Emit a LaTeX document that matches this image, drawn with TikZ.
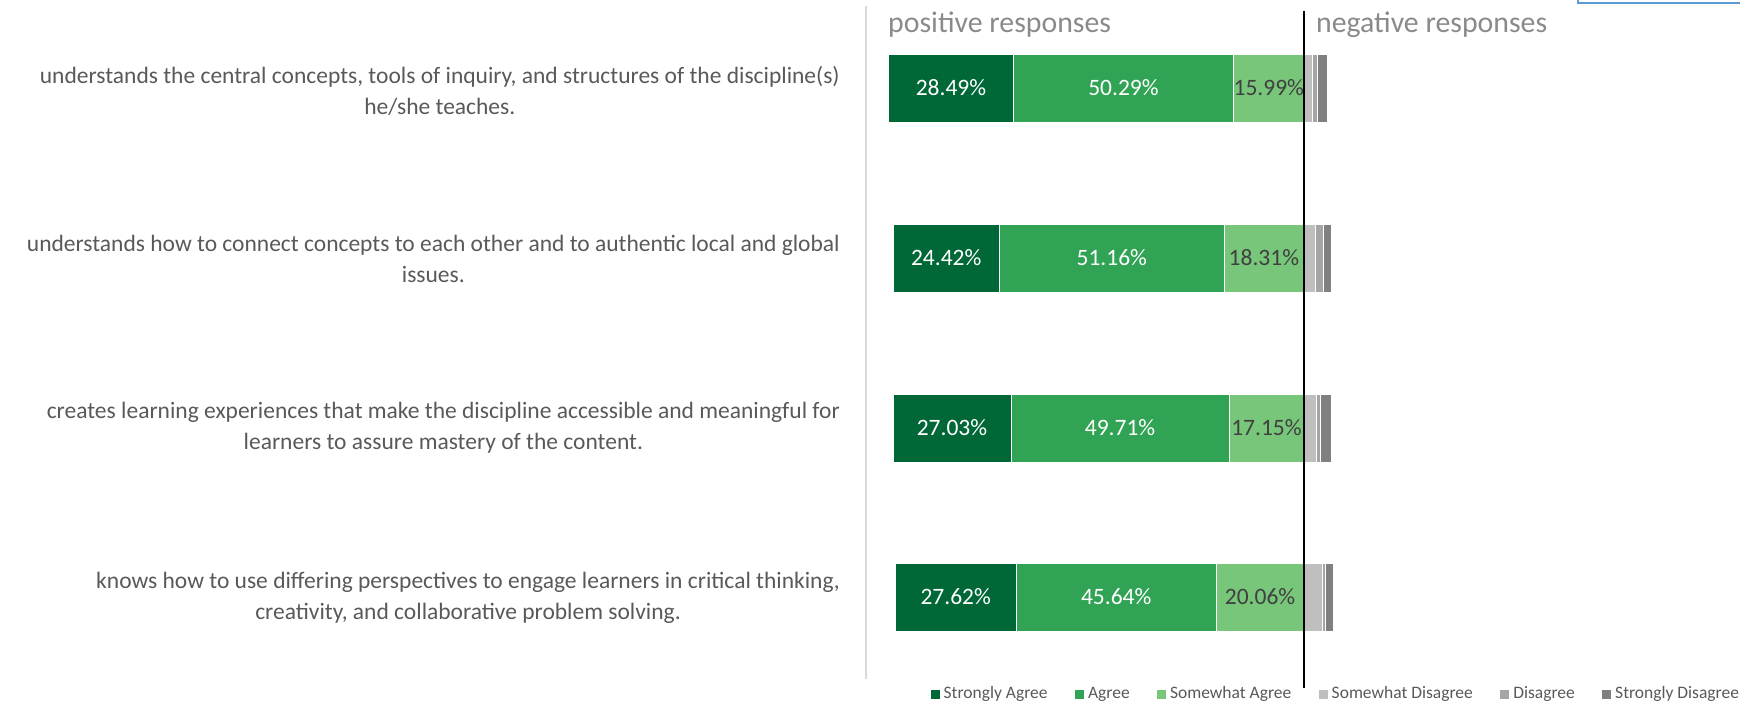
\documentclass[tikz,border=0pt]{standalone}
\usepackage{fontspec}
\setmainfont{Carlito}
\usepackage{xcolor}
\definecolor{colorStrongAgree}{HTML}{006837}
\definecolor{colorAgree}{HTML}{31A354}
\definecolor{colorSomeAgree}{HTML}{78C679}
\definecolor{colorSomeDisagree}{HTML}{BFBFBF}
\definecolor{colorDisagree}{HTML}{A5A5A5}
\definecolor{colorStrongDisagree}{HTML}{808080}
\colorlet{colorLabel}{black!65}
\colorlet{colorHeader}{black!46}
\colorlet{colorValue}{black!75}
\definecolor{colorFrame}{HTML}{5B9BD5}
\usepackage{tikz}
\usetikzlibrary{positioning}

\begin{document}
\begin{tikzpicture}[x=1pt, y=-1pt, node distance=0pt,
  seg/.style={draw=white, line width=0.5pt, minimum height=68pt, inner sep=0pt, outer sep=0pt, text=white, font=\fontsize{23.5}{28}\selectfont},
  pct/.style={minimum width=#1*4.38pt},
  item/.style={align=center, text=colorLabel, inner sep=0pt, font=\fontsize{23.5}{31}\selectfont},
  header/.style={text=colorHeader, inner sep=0pt, font=\fontsize{29.8}{34}\selectfont},
  legsq/.style={minimum size=9pt, inner sep=0pt, outer sep=0pt},
  legtext/.style={text=colorLabel, inner sep=0pt, font=\fontsize{17.5}{20}\selectfont}]
\useasboundingbox (0,0) rectangle (1740,703);
\draw[colorFrame, line width=2pt] (1578,-2) -- (1578,3.5) -- (1745,3.5);
% axis lines
\coordinate (axtop) at (866,6);
\coordinate (axbot) at (866,679);
\coordinate (zerotop) at (1304,11);
\coordinate (zerobot) at (1304,688);
\draw[black!15, line width=2pt] (axtop) -- (axbot);
\node[header, anchor=west] (pos) at (888,25) {positive responses};
\node[header, anchor=west] (neg) at (1316,25) {negative responses};
% item 1
\node[item, anchor=east] (q1) at (840,91) {understands the central concepts, tools of inquiry, and structures of the discipline(s)\\he/she teaches.};
\node[seg, pct=15.99, fill=colorSomeAgree, text=colorValue, anchor=east] (b1c) at (1304,88) {15.99\%};
\node[seg, pct=50.29, fill=colorAgree, left=of b1c] (b1b) {50.29\%};
\node[seg, pct=28.49, fill=colorStrongAgree, left=of b1b] (b1a) {28.49\%};
\node[seg, pct=1.90, fill=colorSomeDisagree, right=of b1c] (b1d) {};
\node[seg, pct=1.10, fill=colorDisagree, right=of b1d] (b1e) {};
\node[seg, pct=2.23, fill=colorStrongDisagree, right=of b1e] (b1f) {};
% item 2
\node[item, anchor=east] (q2) at (840,259) {understands how to connect concepts to each other and to authentic local and global\\issues.};
\node[seg, pct=18.31, fill=colorSomeAgree, text=colorValue, anchor=east] (b2c) at (1304,258) {18.31\%};
\node[seg, pct=51.16, fill=colorAgree, left=of b2c] (b2b) {51.16\%};
\node[seg, pct=24.42, fill=colorStrongAgree, left=of b2b] (b2a) {24.42\%};
\node[seg, pct=2.60, fill=colorSomeDisagree, right=of b2c] (b2d) {};
\node[seg, pct=1.90, fill=colorDisagree, right=of b2d] (b2e) {};
\node[seg, pct=1.61, fill=colorStrongDisagree, right=of b2e] (b2f) {};
% item 3
\node[item, anchor=east] (q3) at (840,428) {creates learning experiences that make the discipline accessible and meaningful for\\learners to assure mastery of the content.};
\node[seg, pct=17.15, fill=colorSomeAgree, text=colorValue, anchor=east] (b3c) at (1304,428) {17.15\%};
\node[seg, pct=49.71, fill=colorAgree, left=of b3c] (b3b) {49.71\%};
\node[seg, pct=27.03, fill=colorStrongAgree, left=of b3b] (b3a) {27.03\%};
\node[seg, pct=2.74, fill=colorSomeDisagree, right=of b3c] (b3d) {};
\node[seg, pct=0.87, fill=colorDisagree, right=of b3d] (b3e) {};
\node[seg, pct=2.50, fill=colorStrongDisagree, right=of b3e] (b3f) {};
% item 4
\node[item, anchor=east] (q4) at (840,598) {knows how to use differing perspectives to engage learners in critical thinking,\\creativity, and collaborative problem solving.};
\node[seg, pct=20.06, fill=colorSomeAgree, text=colorValue, anchor=east] (b4c) at (1304,597) {20.06\%};
\node[seg, pct=45.64, fill=colorAgree, left=of b4c] (b4b) {45.64\%};
\node[seg, pct=27.62, fill=colorStrongAgree, left=of b4b] (b4a) {27.62\%};
\node[seg, pct=4.07, fill=colorSomeDisagree, right=of b4c] (b4d) {};
\node[seg, pct=0.87, fill=colorDisagree, right=of b4d] (b4e) {};
\node[seg, pct=1.74, fill=colorStrongDisagree, right=of b4e] (b4f) {};
\draw[black, line width=1.6pt] (zerotop) -- (zerobot);
% legend
\node[legsq, fill=colorStrongAgree] (lg1) at (935,694) {};
\node[legtext, right=4pt of lg1] (lt1) {Strongly Agree};
\node[legsq, fill=colorAgree, right=27pt of lt1] (lg2) {};
\node[legtext, right=4pt of lg2] (lt2) {Agree};
\node[legsq, fill=colorSomeAgree, right=27pt of lt2] (lg3) {};
\node[legtext, right=4pt of lg3] (lt3) {Somewhat Agree};
\node[legsq, fill=colorSomeDisagree, right=27pt of lt3] (lg4) {};
\node[legtext, right=4pt of lg4] (lt4) {Somewhat Disagree};
\node[legsq, fill=colorDisagree, right=27pt of lt4] (lg5) {};
\node[legtext, right=4pt of lg5] (lt5) {Disagree};
\node[legsq, fill=colorStrongDisagree, right=27pt of lt5] (lg6) {};
\node[legtext, right=4pt of lg6] (lt6) {Strongly Disagree};
\end{tikzpicture}
\end{document}
